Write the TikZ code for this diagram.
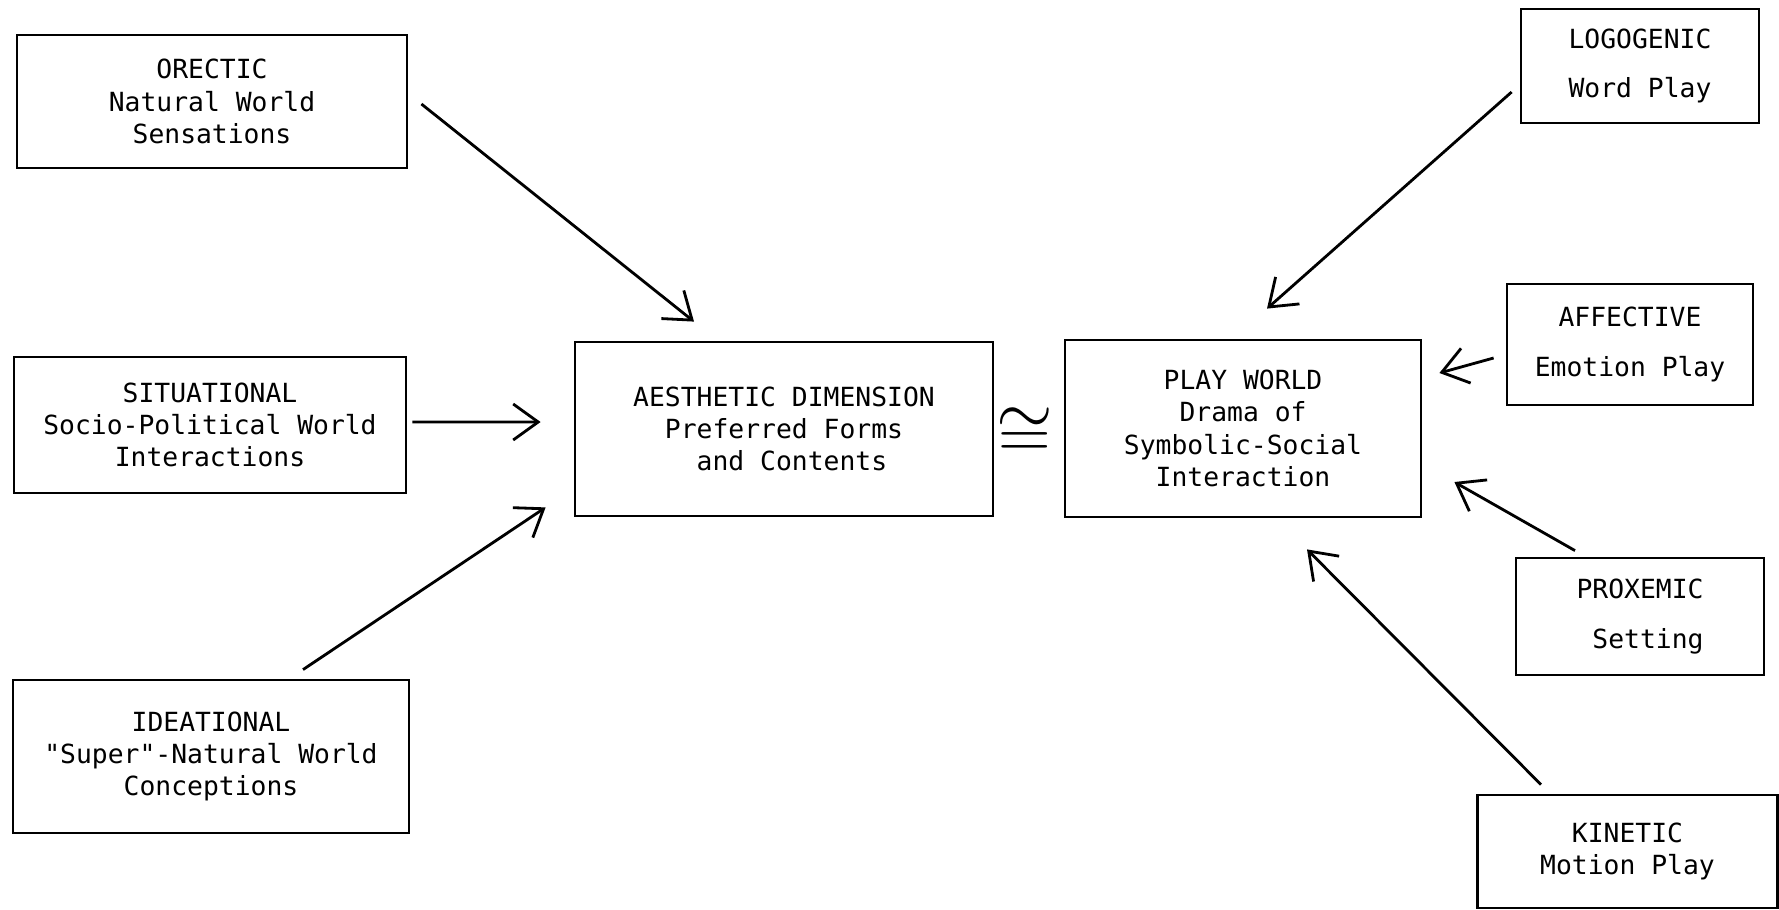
\documentclass[tikz,border=0pt]{standalone}
\usepackage{amsmath}
\usepackage{amssymb}
\usepackage{fontspec}
\setmonofont{DejaVu Sans Mono}
\usepackage{tikz}
\usetikzlibrary{arrows.meta, positioning}

\begin{document}
\begin{tikzpicture} [box/.style = {draw, line width = 0.8pt, inner sep = 0pt,
              align = center,
              font = \ttfamily\fontsize{7.5pt}{9.2pt}\selectfont
          },
          link/.style = {line width = 0.8pt,
              -{Straight Barb[length = 2.5mm, width = 3.6mm, line width = 0.8pt]}
          }
          ]

          \useasboundingbox (0,0) rectangle (17.79,-9.09);

          \node (orectic) [box, minimum width = 3.90cm, minimum height = 1.33cm] at (2.12,-1.015)
              {ORECTIC\\Natural World\\Sensations};
          \node (situational) [box, minimum width = 3.92cm, minimum height = 1.36cm] at (2.10,-4.25)
              {SITUATIONAL\\Socio-Political World\\Interactions};
          \node (ideational) [box, minimum width = 3.96cm, minimum height = 1.53cm] at (2.11,-7.565)
              {IDEATIONAL\\"Super"-Natural World\\Conceptions};
          \node (aesthetic) [box, minimum width = 4.18cm, minimum height = 1.74cm] at (7.84,-4.29)
              {AESTHETIC DIMENSION\\Preferred Forms\\\ and Contents};
          \node (playworld) [box, minimum width = 3.56cm, minimum height = 1.77cm] at (12.43,-4.285)
              {PLAY WORLD\\Drama of\\Symbolic-Social\\Interaction};
          \node (logogenic) [box, minimum width = 2.38cm, minimum height = 1.14cm] at (16.40,-0.66)
              {LOGOGENIC\\[4.8pt]Word Play};
          \node (affective) [box, minimum width = 2.46cm, minimum height = 1.21cm] at (16.30,-3.445)
              {AFFECTIVE\\[5pt]Emotion Play};
          \node (proxemic) [box, minimum width = 2.48cm, minimum height = 1.17cm] at (16.40,-6.165)
              {PROXEMIC\\[5pt]\ Setting};
          \node (kinetic) [box, minimum width = 3.00cm, minimum height = 1.13cm] at (16.275,-8.515)
              {KINETIC\\Motion Play};
          \node (iso) [inner sep = 0pt, font = \fontsize{20pt}{20pt}\selectfont] at (10.25,-4.33) {$\cong$};

          % Links
          \draw [link] ([xshift = 0.13cm, yshift = -0.025cm]orectic.east) -- ([xshift = -0.90cm, yshift = 0.19cm]aesthetic.north);
          \draw [link] ([xshift = 0.05cm, yshift = 0.03cm]situational.east) -- ([xshift = -0.33cm, yshift = 0.07cm]aesthetic.west);
          \draw [link] ([xshift = 0.92cm, yshift = 0.09cm]ideational.north) -- ([xshift = -0.28cm, yshift = 0.10cm]aesthetic.south west);
          \draw [link] ([xshift = -0.08cm, yshift = -0.26cm]logogenic.west) -- ([xshift = 0.24cm, yshift = 0.30cm]playworld.north);
          \draw [link] ([xshift = -0.12cm, yshift = -0.135cm]affective.west) -- ([xshift = 0.17cm, yshift = 0.555cm]playworld.east);
          \draw [link] ([xshift = -0.65cm, yshift = 0.06cm]proxemic.north) -- ([xshift = 0.32cm, yshift = -0.535cm]playworld.east);
          \draw [link] ([xshift = -0.865cm, yshift = 0.09cm]kinetic.north) -- ([xshift = 0.64cm, yshift = -0.31cm]playworld.south);

        \end{tikzpicture}
\end{document}
